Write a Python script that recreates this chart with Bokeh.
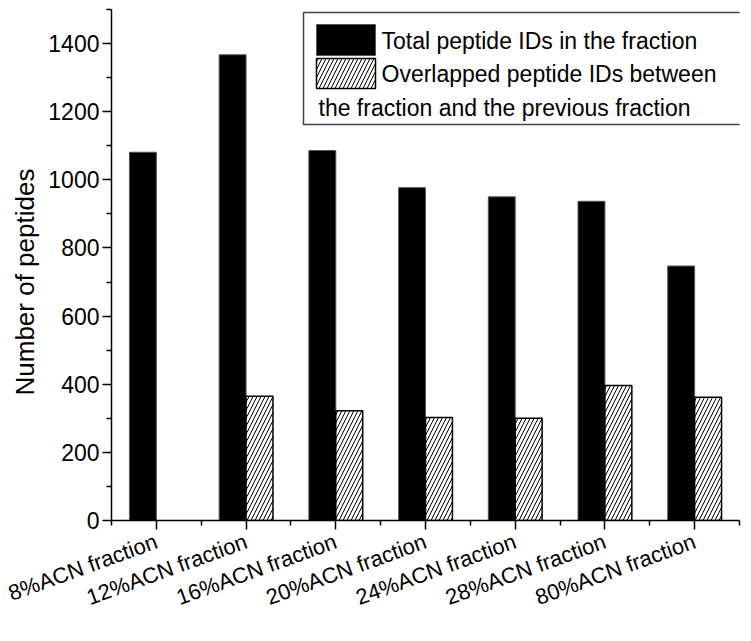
import math
from bokeh.plotting import figure
from bokeh.models import (Range1d, FixedTicker, BoxAnnotation, Label, ColumnDataSource, Title)
from bokeh.embed import file_html
from bokeh.resources import INLINE

# ---------------- data ----------------
categories = ["8%ACN fraction", "12%ACN fraction", "16%ACN fraction", "20%ACN fraction",
              "24%ACN fraction", "28%ACN fraction", "80%ACN fraction"]
total_ids = [1081, 1367, 1086, 977, 950, 937, 747]
overlap_ids = [None, 365, 322, 302, 300, 396, 362]
y_ticks = [0, 200, 400, 600, 800, 1000, 1200, 1400]
y_minor = [100, 300, 500, 700, 900, 1100, 1300, 1500]

FONT = "Liberation Sans"

pos = list(range(1, len(categories) + 1))
src_total = ColumnDataSource(dict(x=[c - 0.15 for c in pos], top=total_ids))
ov_x = [c + 0.15 for c, v in zip(pos, overlap_ids) if v is not None]
ov_top = [v for v in overlap_ids if v is not None]
src_ov = ColumnDataSource(dict(x=ov_x, top=ov_top))

W, H = 743, 633
FL, FR, FT, FB = 111, 739, 9, 520   # frame edges in canvas pixels

p = figure(width=W, height=H, x_range=Range1d(0.5, 7.5), y_range=Range1d(0, 1500),
           output_backend="svg", toolbar_location=None,
           min_border_left=FL, min_border_right=W - FR, min_border_top=FT,
           min_border_bottom=H - FB)
p.outline_line_color = None
p.xgrid.visible = False
p.ygrid.visible = False
p.background_fill_color = "white"

p.vbar(x="x", top="top", width=0.3, source=src_total, fill_color="black",
       line_color="#555555", line_width=1)
p.vbar(x="x", top="top", width=0.3, source=src_ov, fill_color="white",
       line_color="black", line_width=1.5, hatch_pattern="/", hatch_color="black",
       hatch_scale=8, hatch_weight=1)

for ax in (p.xaxis[0], p.yaxis[0]):
    ax.axis_line_width = 1.5
    ax.axis_line_color = "black"
    ax.major_tick_line_width = 1.5
    ax.minor_tick_line_width = 1.5
    ax.major_tick_line_color = "black"
    ax.minor_tick_line_color = "black"
    ax.major_tick_in = 0
    ax.minor_tick_in = 0
    ax.major_tick_out = 9
    ax.minor_tick_out = 5
    ax.major_label_text_font = FONT
    ax.major_label_text_color = "black"

p.xaxis.ticker = FixedTicker(ticks=pos, minor_ticks=[0.5 + i for i in range(len(pos) + 1)])
p.xaxis.major_label_overrides = {c: lab for c, lab in zip(pos, categories)}
p.xaxis.major_label_orientation = math.radians(20)
p.xaxis.major_label_text_font_size = "22px"
p.xaxis.major_label_standoff = 11

p.yaxis.ticker = FixedTicker(ticks=y_ticks, minor_ticks=y_minor)
p.yaxis.major_label_text_font_size = "23px"
p.yaxis.major_label_standoff = 3

# y-axis title, placed a little below the frame centre as in the original
p.add_layout(Title(text="Number of peptides", align="left", offset=125,
                   text_font=FONT, text_font_size="26px", text_font_style="normal",
                   text_color="black", standoff=12), "left")

# ---- layout helpers for the hand-drawn legend: canvas pixel -> data coordinates ----
def dx(px):
    return 0.5 + (px - FL) / ((FR - FL) / 7)

def dy(py):
    return (FB - py) * 1500 / (FB - FT)

p.add_layout(BoxAnnotation(left=dx(303), right=dx(742), top=dy(12), bottom=dy(124),
                           fill_color="white", fill_alpha=1, line_color="#444444",
                           line_width=1.5, line_alpha=1))
p.add_layout(BoxAnnotation(left=dx(316), right=dx(375), top=dy(24), bottom=dy(55),
                           fill_color="black", fill_alpha=1, line_color="#555555",
                           line_width=1, line_alpha=1))
p.add_layout(BoxAnnotation(left=dx(316), right=dx(375), top=dy(58), bottom=dy(88),
                           fill_color="white", fill_alpha=1, line_color="black",
                           line_width=1.5, line_alpha=1, hatch_pattern="/",
                           hatch_color="black", hatch_scale=8, hatch_weight=1, hatch_alpha=1))
legend_texts = [("Total peptide IDs in the fraction", 381, 40),
                ("Overlapped peptide IDs between", 381, 73),
                ("the fraction and the previous fraction", 318, 107)]
for t, lx, ly in legend_texts:
    p.add_layout(Label(x=dx(lx), y=dy(ly), text=t, text_align="left",
                       text_baseline="middle", text_font=FONT, text_font_size="23px",
                       text_color="black"))

open("out.html", "w").write(file_html(p, INLINE))
